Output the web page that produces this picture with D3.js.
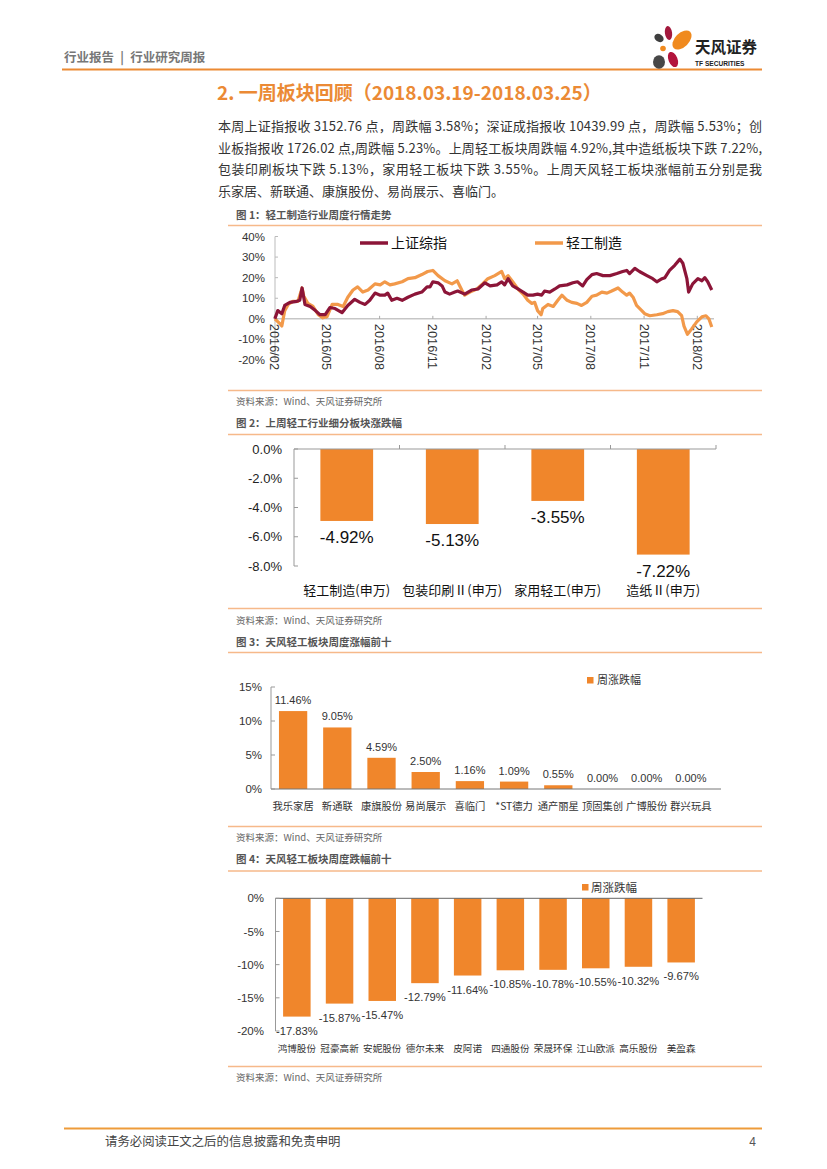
<!DOCTYPE html>
<html><head><meta charset="utf-8">
<script src="https://cdn.jsdelivr.net/npm/d3@7"></script>
<style>body{margin:0;background:#fff}svg{display:block}</style>
</head><body>
<svg id="page" width="827" height="1169"></svg>
<script>
// ---------- DATA ----------
const headerText = "行业报告\u2002|\u2002行业研究周报";
const sectionTitle = "2. 一周板块回顾（2018.03.19-2018.03.25）";
const paraLines = [
  "本周上证指报收 3152.76 点，周跌幅 3.58%；深证成指报收 10439.99 点，周跌幅 5.53%；创",
  "业板指报收 1726.02 点,周跌幅 5.23%。上周轻工板块周跌幅 4.92%,其中造纸板块下跌 7.22%,",
  "包装印刷板块下跌 5.13%，家用轻工板块下跌 3.55%。上周天风轻工板块涨幅前五分别是我",
  "乐家居、新联通、康旗股份、易尚展示、喜临门。"
];
const figTitles = ["图 1：轻工制造行业周度行情走势","图 2：上周轻工行业细分板块涨跌幅","图 3：天风轻工板块周度涨幅前十","图 4：天风轻工板块周度跌幅前十"];
const sourceText = "资料来源：Wind、天风证券研究所";
const footerText = "请务必阅读正文之后的信息披露和免责申明";
const pageNumber = "4";

// Figure 1
const seriesNames1 = ["上证综指","轻工制造"];
const shDates = ["2016-02-02","2016-02-07","2016-02-14","2016-02-19","2016-02-28","2016-03-11","2016-03-16","2016-03-20","2016-03-25","2016-04-03","2016-04-12","2016-04-20","2016-04-29","2016-05-07","2016-05-16","2016-05-28","2016-06-07","2016-06-19","2016-06-28","2016-07-07","2016-07-15","2016-07-24","2016-08-02","2016-08-10","2016-08-15","2016-08-22","2016-08-31","2016-09-09","2016-09-19","2016-10-01","2016-10-13","2016-10-22","2016-10-27","2016-11-01","2016-11-10","2016-11-17","2016-11-22","2016-11-30","2016-12-09","2016-12-14","2016-12-26","2017-01-07","2017-01-18","2017-01-30","2017-02-08","2017-02-20","2017-02-28","2017-03-05","2017-03-11","2017-03-19","2017-03-28","2017-04-06","2017-04-14","2017-04-23","2017-05-01","2017-05-08","2017-05-13","2017-05-22","2017-05-31","2017-06-08","2017-06-21","2017-07-01","2017-07-09","2017-07-18","2017-07-25","2017-08-03","2017-08-11","2017-08-22","2017-09-03","2017-09-15","2017-09-25","2017-10-02","2017-10-07","2017-10-16","2017-10-24","2017-11-06","2017-11-16","2017-11-23","2017-12-02","2017-12-07","2017-12-15","2017-12-24","2018-01-02","2018-01-07","2018-01-14","2018-01-17","2018-01-24","2018-02-02","2018-02-09","2018-02-14","2018-02-19","2018-02-26"];
const shValues = [0,4,2.5,6.5,8,8.5,9,15,7,6,4,2,2,5.5,5,3,6.5,9.5,8,7,9,12.5,11.5,11.5,12.5,9,10,9,10.5,12,13,15.5,15.5,18,17.5,16,13,12,13,13.5,12,14,14.5,17.5,16,16.5,18,16.5,19.5,16,14.5,13,11.5,11.5,12,11.5,13.5,13,14.5,16,16.5,17.5,18,16,19,21.5,22,21,21,22,23,23.5,22,24.5,23,21,19.5,18,19.5,20,23.5,26,29,27,19.5,13,17,19.5,18.5,20,18,14];
const qgDates = ["2016-02-02","2016-02-11","2016-02-14","2016-02-19","2016-02-25","2016-03-04","2016-03-13","2016-03-20","2016-03-23","2016-03-30","2016-04-08","2016-04-17","2016-04-25","2016-05-02","2016-05-11","2016-05-21","2016-05-30","2016-06-07","2016-06-16","2016-06-24","2016-07-03","2016-07-12","2016-07-24","2016-08-02","2016-08-10","2016-08-19","2016-08-27","2016-09-09","2016-09-19","2016-10-01","2016-10-13","2016-10-23","2016-11-01","2016-11-10","2016-11-22","2016-12-04","2016-12-13","2016-12-21","2016-12-26","2017-01-04","2017-01-16","2017-01-26","2017-02-04","2017-02-16","2017-02-28","2017-03-05","2017-03-11","2017-03-19","2017-03-28","2017-04-06","2017-04-14","2017-04-21","2017-04-26","2017-05-01","2017-05-07","2017-05-10","2017-05-19","2017-05-28","2017-06-05","2017-06-12","2017-06-21","2017-06-29","2017-07-08","2017-07-16","2017-07-25","2017-08-03","2017-08-11","2017-08-20","2017-08-29","2017-09-06","2017-09-17","2017-09-25","2017-10-02","2017-10-07","2017-10-13","2017-10-19","2017-10-28","2017-11-02","2017-11-11","2017-11-23","2017-12-03","2017-12-12","2017-12-21","2017-12-29","2018-01-05","2018-01-09","2018-01-15","2018-01-22","2018-01-31","2018-02-09","2018-02-16","2018-02-21","2018-02-26"];
const qgValues = [0,-2.5,-3.5,4,7,8.5,8.5,15,11,7.5,6,2,0.5,1,7,7,6,10.5,14,15.5,13,14,17,16.5,18,16.5,17,18,19.5,20,21.5,23,23.5,21,18.5,17,18.5,14,11.5,13,14.5,17,19.5,21,23,19.5,21,18,14.5,12,9,7.5,8,4,2,5,7,6,9,11.5,9,8,7.5,6.5,8,11,11.5,13,12.5,13.5,15,13,11.5,12.5,10.5,6.5,4,2.5,1.5,2,2.5,3.5,4,3.5,1.5,-3.5,-7.5,-5,-1.5,1,1.5,0,-4];
const yTicks1 = [40,30,20,10,0,-10,-20];
const xTickDates1 = ["2016-02-01","2016-05-01","2016-08-01","2016-11-01","2017-02-01","2017-05-01","2017-08-01","2017-11-01","2018-02-01"];
const xTickLabels1 = ["2016/02","2016/05","2016/08","2016/11","2017/02","2017/05","2017/08","2017/11","2018/02"];

// Figure 2
const cat2 = ["轻工制造(申万)","包装印刷Ⅱ(申万)","家用轻工(申万)","造纸Ⅱ(申万)"];
const val2 = [-4.92,-5.13,-3.55,-7.22];
const yTicks2 = [0,-2,-4,-6,-8];

// Figure 3
const cat3 = ["我乐家居","新通联","康旗股份","易尚展示","喜临门","*ST德力","通产丽星","顶固集创","广博股份","群兴玩具"];
const val3 = [11.46,9.05,4.59,2.50,1.16,1.09,0.55,0.00,0.00,0.00];
const yTicks3 = [0,5,10,15];
const legend3 = "周涨跌幅";

// Figure 4
const cat4 = ["鸿博股份","冠豪高新","安妮股份","德尔未来","皮阿诺","四通股份","荣晟环保","江山欧派","高乐股份","美盈森"];
const val4 = [-17.83,-15.87,-15.47,-12.79,-11.64,-10.85,-10.78,-10.55,-10.32,-9.67];
const yTicks4 = [0,-5,-10,-15,-20];
const legend4 = "周涨跌幅";

// ---------- STYLE ----------
const CJK = "'Noto Sans CJK SC','Noto Sans',sans-serif";
const NUM = "'Liberation Sans',Arial,sans-serif";
const ORANGE = "#F0862B";
const MAROON = "#8C1538";
const LINE_OR = "#F2994A";
const SEP = "#F6B98A";

const svg = d3.select("#page");
const parse = d3.timeParse("%Y-%m-%d");

// ---------- HEADER ----------
svg.append("text").attr("x",64).attr("y",61.5).text(headerText).style("white-space","pre")
  .attr("font-family",CJK).attr("font-size",12.5).attr("font-weight","bold").attr("fill","#777");
svg.append("line").attr("x1",62).attr("x2",762).attr("y1",69.5).attr("y2",69.5)
  .attr("stroke","#EC8A33").attr("stroke-width",2);
// logo
const logo = svg.append("g");
logo.append("ellipse").attr("cx",668.5).attr("cy",33).attr("rx",3.6).attr("ry",7).attr("transform","rotate(-8,668.5,33)").attr("fill","#A3193D");
logo.append("ellipse").attr("cx",682).attr("cy",40).attr("rx",7).attr("ry",11.5).attr("transform","rotate(45,682,40)").attr("fill","#F08A1E");
logo.append("ellipse").attr("cx",659).attr("cy",38).attr("rx",5).attr("ry",3.8).attr("transform","rotate(35,659,38)").attr("fill","#3F3F3F");
logo.append("circle").attr("cx",663).attr("cy",48.5).attr("r",2.8).attr("fill","#F08A1E");
logo.append("ellipse").attr("cx",659).attr("cy",62).attr("rx",6).attr("ry",6.8).attr("fill","#474747");
logo.append("ellipse").attr("cx",673).attr("cy",59.5).attr("rx",4.5).attr("ry",8).attr("transform","rotate(-22,673,59.5)").attr("fill","#B3143D");
logo.append("text").attr("x",695).attr("y",53).text("天风证券").attr("font-family",CJK).attr("font-weight","bold").attr("font-size",15.5).attr("fill","#222");
logo.append("text").attr("x",695).attr("y",65.5).text("TF SECURITIES").attr("font-family",NUM).attr("font-weight","bold").attr("font-size",6.6).attr("fill","#222");

// ---------- SECTION TITLE & PARAGRAPH ----------
svg.append("text").attr("x",217).attr("y",100).text(sectionTitle)
  .attr("font-family",CJK).attr("font-size",19).attr("font-weight","bold").attr("fill","#EB8A35");
const paraBase = [131,152.5,174,195.5];
paraLines.forEach((t,i)=>{
  const tx = svg.append("text").attr("x",218).attr("y",paraBase[i]).text(t)
    .attr("font-family",CJK).attr("font-size",13).attr("fill","#333");
  if(i<3) tx.attr("textLength",544).attr("lengthAdjust","spacing");
});

// ---------- FIGURE FRAMES ----------
function sepLine(y){ svg.append("line").attr("x1",228).attr("x2",762).attr("y1",y).attr("y2",y).attr("stroke",SEP).attr("stroke-width",1.6); }
function figTitle(t,y){ svg.append("text").attr("x",236).attr("y",y).attr("dy","0.36em").text(t).attr("font-family",CJK).attr("font-weight","bold").attr("font-size",10.5).attr("fill","#555"); }
function source(y){ svg.append("text").attr("x",236).attr("y",y).attr("dy","0.36em").text(sourceText).attr("font-family",CJK).attr("font-size",9.5).attr("fill","#666"); }

figTitle(figTitles[0],215); sepLine(225.5);
sepLine(390.5); source(402);
figTitle(figTitles[1],423.5); sepLine(434.5);
sepLine(608.5); source(621);
figTitle(figTitles[2],642); sepLine(652.5);
sepLine(826.5); source(838);
figTitle(figTitles[3],859.5); sepLine(871);
sepLine(1066.5); source(1078);

// ---------- FIGURE 1 ----------
{
  const g = svg.append("g");
  const x = d3.scaleTime().domain([parse("2016-02-01"),parse("2018-02-01")]).range([274.3,697.3]);
  const y = d3.scaleLinear().domain([-20,40]).range([360,236.5]);
  g.append("line").attr("x1",275).attr("x2",275).attr("y1",y(40)).attr("y2",y(-20)).attr("stroke","#BBB");
  yTicks1.forEach(v=>{
    g.append("line").attr("x1",275).attr("x2",278).attr("y1",y(v)).attr("y2",y(v)).attr("stroke","#BBB");
    g.append("text").attr("x",265).attr("y",y(v)).attr("dy","0.35em").attr("text-anchor","end")
      .text(v+"%").attr("font-family",NUM).attr("font-size",11.5).attr("fill","#333");
  });
  g.append("line").attr("x1",275).attr("x2",714).attr("y1",y(0)).attr("y2",y(0)).attr("stroke","#AAA");
  xTickDates1.forEach((d,i)=>{
    const xx = x(parse(d));
    g.append("line").attr("x1",xx).attr("x2",xx).attr("y1",y(0)).attr("y2",y(0)-3).attr("stroke","#AAA");
    g.append("text").attr("transform",`translate(${xx},${y(0)+5}) rotate(90)`).attr("dy","0.35em")
      .text(xTickLabels1[i]).attr("font-family",NUM).attr("font-size",12.8).attr("fill","#333");
  });
  const line = d3.line().x(d=>x(d[0])).y(d=>y(d[1]));
  const sh = shDates.map((d,i)=>[parse(d),shValues[i]]);
  const qg = qgDates.map((d,i)=>[parse(d),qgValues[i]]);
  g.append("path").datum(qg).attr("d",line).attr("fill","none").attr("stroke",LINE_OR).attr("stroke-width",3.2).attr("stroke-linejoin","round");
  g.append("path").datum(sh).attr("d",line).attr("fill","none").attr("stroke",MAROON).attr("stroke-width",3.2).attr("stroke-linejoin","round");
  const leg = [[360,MAROON],[535,LINE_OR]];
  seriesNames1.forEach((n,i)=>{
    g.append("line").attr("x1",leg[i][0]).attr("x2",leg[i][0]+28).attr("y1",243).attr("y2",243).attr("stroke",leg[i][1]).attr("stroke-width",3.5);
    g.append("text").attr("x",leg[i][0]+31).attr("y",243).attr("dy","0.36em").text(n).attr("font-family",CJK).attr("font-size",14).attr("fill","#111");
  });
}

// ---------- FIGURE 2 ----------
{
  const g = svg.append("g");
  const x = d3.scaleBand().domain(cat2).range([294,716]).paddingInner(0.5).paddingOuter(0.25);
  const y = d3.scaleLinear().domain([-8,0]).range([566,449]);
  g.selectAll("rect").data(val2).join("rect")
    .attr("x",(d,i)=>x(cat2[i])).attr("width",x.bandwidth())
    .attr("y",y(0)).attr("height",d=>y(d)-y(0)).attr("fill",ORANGE);
  g.append("line").attr("x1",294).attr("x2",294).attr("y1",y(0)).attr("y2",y(-8)).attr("stroke","#999");
  g.append("line").attr("x1",294).attr("x2",716).attr("y1",y(0)).attr("y2",y(0)).attr("stroke","#999");
  cat2.forEach((c,i)=>{
    const bx = x.range()[0] + x.step()*(i+1);
    g.append("line").attr("x1",bx).attr("x2",bx).attr("y1",y(0)).attr("y2",y(0)-4).attr("stroke","#999");
  });
  yTicks2.forEach(v=>{
    g.append("line").attr("x1",294).attr("x2",298).attr("y1",y(v)).attr("y2",y(v)).attr("stroke","#999");
    g.append("text").attr("x",282).attr("y",y(v)).attr("dy","0.35em").attr("text-anchor","end")
      .text(v.toFixed(1)+"%").attr("font-family",NUM).attr("font-size",13).attr("fill","#222");
  });
  val2.forEach((v,i)=>{
    const cx = x(cat2[i])+x.bandwidth()/2;
    g.append("text").attr("x",cx).attr("y",y(v)+22).attr("text-anchor","middle")
      .text(v.toFixed(2)+"%").attr("font-family",NUM).attr("font-size",17).attr("fill","#111");
    g.append("text").attr("x",cx).attr("y",595).attr("text-anchor","middle")
      .text(cat2[i]).attr("font-family",CJK).attr("font-size",13).attr("fill","#111");
  });
}

// ---------- FIGURE 3 ----------
{
  const g = svg.append("g");
  const x = d3.scaleBand().domain(cat3).range([271,713]).paddingInner(0.36).paddingOuter(0.18);
  const y = d3.scaleLinear().domain([0,15]).range([789,687]);
  g.selectAll("rect").data(val3).join("rect")
    .attr("x",(d,i)=>x(cat3[i])).attr("width",x.bandwidth())
    .attr("y",d=>y(d)).attr("height",d=>y(0)-y(d)).attr("fill",ORANGE);
  g.append("line").attr("x1",271).attr("x2",271).attr("y1",y(15)).attr("y2",y(0)).attr("stroke","#999");
  g.append("line").attr("x1",271).attr("x2",721).attr("y1",y(0)).attr("y2",y(0)).attr("stroke","#777");
  yTicks3.forEach(v=>{
    g.append("line").attr("x1",271).attr("x2",275).attr("y1",y(v)).attr("y2",y(v)).attr("stroke","#999");
    g.append("text").attr("x",262).attr("y",y(v)).attr("dy","0.35em").attr("text-anchor","end")
      .text(v+"%").attr("font-family",NUM).attr("font-size",11.5).attr("fill","#333");
  });
  val3.forEach((v,i)=>{
    const cx = x(cat3[i])+x.bandwidth()/2;
    g.append("text").attr("x",cx).attr("y",y(v)-7).attr("text-anchor","middle")
      .text(v.toFixed(2)+"%").attr("font-family",NUM).attr("font-size",11).attr("fill","#333");
    g.append("text").attr("x",cx).attr("y",810).attr("text-anchor","middle")
      .text(cat3[i]).attr("font-family",CJK).attr("font-size",10.3).attr("fill","#333");
  });
  g.append("rect").attr("x",587).attr("y",677).attr("width",6.5).attr("height",6.5).attr("fill",ORANGE);
  g.append("text").attr("x",597).attr("y",680.5).attr("dy","0.36em").text(legend3).attr("font-family",CJK).attr("font-size",11).attr("fill","#333");
}

// ---------- FIGURE 4 ----------
{
  const g = svg.append("g");
  const x = d3.scaleBand().domain(cat4).range([275.5,702.5]).paddingInner(0.356).paddingOuter(0.178);
  const y = d3.scaleLinear().domain([-20,0]).range([1031,898.3]);
  g.selectAll("rect").data(val4).join("rect")
    .attr("x",(d,i)=>x(cat4[i])).attr("width",x.bandwidth())
    .attr("y",y(0)).attr("height",d=>y(d)-y(0)).attr("fill",ORANGE);
  g.append("line").attr("x1",275.5).attr("x2",275.5).attr("y1",y(0)).attr("y2",y(-20)).attr("stroke","#999");
  g.append("line").attr("x1",275.5).attr("x2",702.5).attr("y1",y(0)).attr("y2",y(0)).attr("stroke","#666");
  yTicks4.forEach(v=>{
    g.append("line").attr("x1",275.5).attr("x2",279.5).attr("y1",y(v)).attr("y2",y(v)).attr("stroke","#999");
    g.append("text").attr("x",264).attr("y",y(v)).attr("dy","0.35em").attr("text-anchor","end")
      .text(v+"%").attr("font-family",NUM).attr("font-size",11.5).attr("fill","#333");
  });
  val4.forEach((v,i)=>{
    const cx = x(cat4[i])+x.bandwidth()/2;
    g.append("text").attr("x",cx).attr("y",y(v)+18).attr("text-anchor","middle")
      .text(v.toFixed(2)+"%").attr("font-family",NUM).attr("font-size",11.2).attr("fill","#333");
    g.append("text").attr("x",cx).attr("y",1052).attr("text-anchor","middle")
      .text(cat4[i]).attr("font-family",CJK).attr("font-size",9.6).attr("fill","#333");
  });
  g.append("rect").attr("x",582).attr("y",884).attr("width",6.5).attr("height",6.5).attr("fill",ORANGE);
  g.append("text").attr("x",591).attr("y",887.5).attr("dy","0.36em").text(legend4).attr("font-family",CJK).attr("font-size",11.5).attr("fill","#333");
}

// ---------- FOOTER ----------
svg.append("line").attr("x1",64).attr("x2",762).attr("y1",1128.5).attr("y2",1128.5).attr("stroke","#EE9B3A").attr("stroke-width",2.2);
svg.append("text").attr("x",105).attr("y",1142).attr("dy","0.36em").text(footerText)
  .attr("font-family",CJK).attr("font-size",12.4).attr("fill","#444");
svg.append("text").attr("x",756).attr("y",1142).attr("dy","0.36em").attr("text-anchor","end").text(pageNumber)
  .attr("font-family",NUM).attr("font-size",12).attr("fill","#555");
</script>
</body></html>
